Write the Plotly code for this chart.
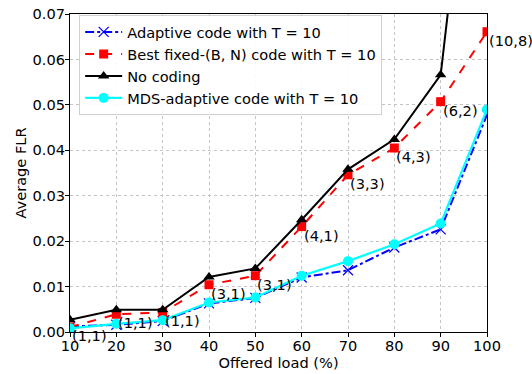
import plotly.graph_objects as go

# Offered load (%)
load = [10, 20, 30, 40, 50, 60, 70, 80, 90, 100]

# Average frame loss rate per scheme
adaptive = [0.0012, 0.0016, 0.0024, 0.0063, 0.0075, 0.0120, 0.0136, 0.0186, 0.0226, 0.0478]
best_fixed = [0.0011, 0.0039, 0.0043, 0.0104, 0.0124, 0.0232, 0.0346, 0.0405, 0.0507, 0.0661]
no_coding = [0.0027, 0.0049, 0.0049, 0.0121, 0.0140, 0.0247, 0.0358, 0.0424, 0.0566, 0.145]
mds_adaptive = [0.0008, 0.0018, 0.0026, 0.0065, 0.0076, 0.0124, 0.0156, 0.0193, 0.0239, 0.0490]

# (B, N) chosen by the best fixed code at each load
bn_labels = ["(1,1)", "(1,1)", "(1,1)", "(3,1)", "(3,1)", "(4,1)", "(3,3)", "(4,3)", "(6,2)", "(10,8)"]

FONT = "DejaVu Sans"
FS = 14.6

fig = go.Figure()
fig.add_trace(go.Scatter(
    x=load, y=adaptive, name="Adaptive code with T = 10", mode="lines+markers",
    line=dict(color="#0000ff", width=2, dash="dashdot"),
    marker=dict(symbol="x-thin", size=10, line=dict(color="#0000ff", width=1.2)),
))
fig.add_trace(go.Scatter(
    x=load, y=best_fixed, name="Best fixed-(B, N) code with T = 10", mode="lines+markers",
    line=dict(color="#ff0000", width=2, dash="dash"),
    marker=dict(symbol="square", size=9, color="#ff0000"),
))
fig.add_trace(go.Scatter(
    x=load, y=no_coding, name="No coding", mode="lines+markers",
    line=dict(color="#000000", width=2),
    marker=dict(symbol="triangle-up", size=10, color="#000000"),
))
fig.add_trace(go.Scatter(
    x=load, y=mds_adaptive, name="MDS-adaptive code with T = 10", mode="lines+markers",
    line=dict(color="#00ffff", width=2.2),
    marker=dict(symbol="circle", size=10, color="#00ffff"),
))

for xv, yv, txt in zip(load, best_fixed, bn_labels):
    fig.add_annotation(
        x=xv, y=yv, xref="x", yref="y", text=txt, showarrow=False,
        xanchor="left", yanchor="top", xshift=0, yshift=2,
        font=dict(family=FONT, size=FS, color="black"),
    )

axis_common = dict(
    showline=True, linecolor="black", linewidth=1, mirror=True,
    ticks="outside", ticklen=4, tickcolor="black", tickwidth=1,
    showgrid=True, gridcolor="#c4c4c4", gridwidth=0.8, griddash="dot",
    zeroline=False, automargin=False,
    tickfont=dict(family=FONT, size=FS, color="black"),
)

fig.update_xaxes(
    range=[10, 100], tickvals=load, ticktext=[str(v) for v in load],
    ticklabelstandoff=-4,
    title=dict(text="Offered load (%)", font=dict(family=FONT, size=FS, color="black"), standoff=2),
    **axis_common,
)
fig.update_yaxes(
    range=[0, 0.07], dtick=0.01, tickformat=".2f",
    ticklabelstandoff=-3,
    title=dict(text="Average FLR", font=dict(family=FONT, size=FS, color="black"), standoff=2),
    **axis_common,
)

fig.update_layout(
    width=532, height=374,
    margin=dict(l=70, r=45, t=14, b=42),
    plot_bgcolor="white", paper_bgcolor="white",
    font=dict(family=FONT, size=FS, color="black"),
    legend=dict(
        x=0.022, y=0.997, xanchor="left", yanchor="top",
        bgcolor="rgba(255,255,255,0.9)", bordercolor="#d0d0d0", borderwidth=1,
        font=dict(family=FONT, size=FS, color="black"),
        tracegroupgap=0, itemwidth=37,
    ),
)

fig.write_html("out.html")
